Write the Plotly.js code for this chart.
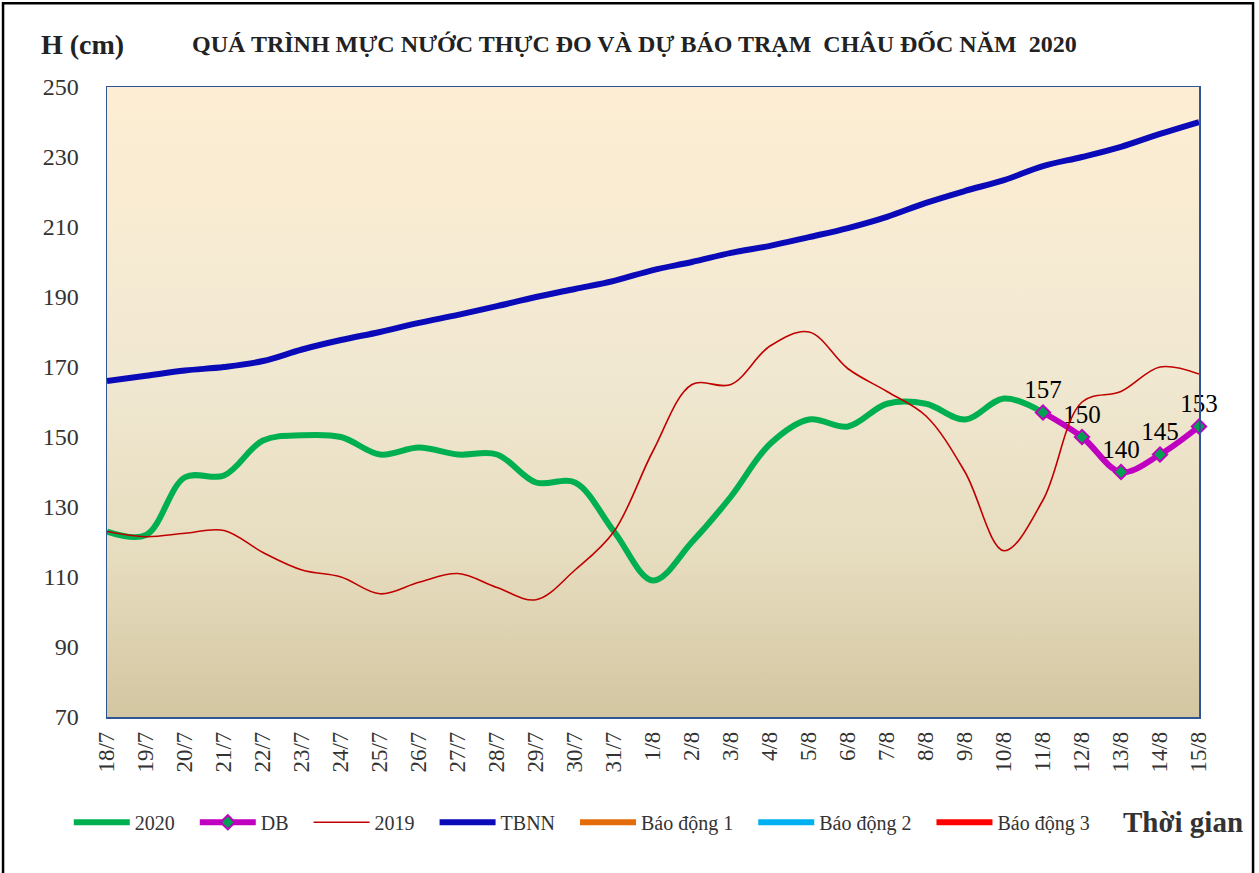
<!DOCTYPE html>
<html>
<head>
<meta charset="utf-8">
<script src="https://cdn.plot.ly/plotly-3.0.1.min.js"></script>
<style>
  html, body { margin: 0; padding: 0; background: #ffffff; }
  #wrap { position: relative; width: 1259px; height: 873px; }
  #bg { position: absolute; left: 107px; top: 87px; width: 1092px; height: 630px;
        background: linear-gradient(to bottom, #fdeed3 0%, #f1e8d2 45%, #e6dcbe 75%, #d3c6a1 100%); }
  #chart { position: absolute; left: 0; top: 0; width: 1259px; height: 873px; }
</style>
</head>
<body>
<div id="wrap">
  <div id="bg"></div>
  <div id="chart"></div>
</div>
<script>
const days = ["18/7","19/7","20/7","21/7","22/7","23/7","24/7","25/7","26/7","27/7","28/7","29/7","30/7","31/7",
              "1/8","2/8","3/8","4/8","5/8","6/8","7/8","8/8","9/8","10/8","11/8","12/8","13/8","14/8","15/8"];

const y2020 = [123,122,138.5,139,149,150.5,150,145,147,145,145,137,137,123,
               109,120,133,148,155,153,159.5,159.5,155,161,157,null,null,null,null];

const yDB = [null,null,null,null,null,null,null,null,null,null,null,null,null,null,
             null,null,null,null,null,null,null,null,null,null,157,150,140,145,153];

const y2019 = [123,121.5,122.5,123.3,117,112,110,105.2,108.5,111,107,103.5,112,123,
               146,165,165,176,180,169.5,163,156,140,117.5,132,160,163,170,168];

const yTBNN = [166,167.5,169,170,171.7,175,177.7,180,182.6,184.9,187.4,190,192.3,194.6,
               197.7,200,202.6,204.6,207.1,209.7,212.9,216.9,220.3,223.4,227.4,230,232.9,236.6,240];

const yBD1 = days.map(() => null);
const yBD2 = days.map(() => null);
const yBD3 = days.map(() => null);

const seriesNames = ["2020", "DB", "2019", "TBNN", "Báo động 1", "Báo động 2", "Báo động 3"];

const dbLabels = yDB.map(v => v === null ? "" : String(v));

const serif = "Liberation Serif, Times New Roman, serif";
const pad = "\u00a0\u00a0\u00a0";

const traces = [
  { x: days, y: y2020, name: seriesNames[0] + pad, type: "scatter", mode: "lines",
    line: { color: "#00b050", width: 6, shape: "spline", smoothing: 1 } },
  { x: days, y: yDB, name: seriesNames[1] + pad, type: "scatter", mode: "lines+markers+text",
    line: { color: "#c000c0", width: 6, shape: "spline", smoothing: 1 },
    marker: { symbol: "diamond", size: 11, color: "#00a050", line: { color: "#c000c0", width: 2 } },
    text: dbLabels, textposition: "top center", cliponaxis: false,
    textfont: { family: serif, size: 25, color: "#000000" } },
  { x: days, y: y2019, name: seriesNames[2] + pad, type: "scatter", mode: "lines",
    line: { color: "#c00000", width: 1.6, shape: "spline", smoothing: 1 } },
  { x: days, y: yTBNN, name: seriesNames[3] + pad, type: "scatter", mode: "lines",
    line: { color: "#0a0ab8", width: 6, shape: "spline", smoothing: 1 } },
  { x: days, y: yBD1, name: seriesNames[4] + pad, type: "scatter", mode: "lines",
    line: { color: "#e46c0a", width: 6 } },
  { x: days, y: yBD2, name: seriesNames[5] + pad, type: "scatter", mode: "lines",
    line: { color: "#00b0f0", width: 6 } },
  { x: days, y: yBD3, name: seriesNames[6], type: "scatter", mode: "lines",
    line: { color: "#ff0000", width: 6 } }
];

const layout = {
  width: 1259, height: 873,
  margin: { l: 107, r: 60, t: 87, b: 156 },
  paper_bgcolor: "rgba(0,0,0,0)",
  plot_bgcolor: "rgba(0,0,0,0)",
  showlegend: true,
  font: { family: serif, color: "#333333" },
  xaxis: {
    type: "category", range: [0, 28], tickangle: -90,
    tickfont: { family: serif, size: 23, color: "#333333" },
    showgrid: false, zeroline: false,
    showline: true, linecolor: "#2f5597", linewidth: 1.5, mirror: true,
    ticks: "", ticklabelstandoff: 4
  },
  yaxis: {
    range: [70, 250], dtick: 20, tick0: 70,
    tickfont: { family: serif, size: 24, color: "#333333" },
    showgrid: false, zeroline: false,
    showline: true, linecolor: "#2f5597", linewidth: 1.5, mirror: true,
    ticks: "", ticklabelstandoff: 22
  },
  legend: {
    orientation: "h", x: -0.035, xanchor: "left", y: -0.167, yanchor: "middle",
    font: { family: serif, size: 20, color: "#333333" },
    itemwidth: 56, traceorder: "normal", bgcolor: "rgba(0,0,0,0)"
  },
  annotations: [
    { text: "<b>H (cm)</b>", xref: "paper", yref: "paper", x: -0.062, y: 1.068,
      xanchor: "left", yanchor: "middle", showarrow: false,
      font: { family: serif, size: 28, color: "#222222" } },
    { text: "<b>QUÁ TRÌNH MỰC NƯỚC THỰC ĐO VÀ DỰ BÁO TRẠM  CHÂU ĐỐC NĂM  2020</b>",
      xref: "paper", yref: "paper", x: 0.076, y: 1.068,
      xanchor: "left", yanchor: "middle", showarrow: false,
      font: { family: serif, size: 24, color: "#222222" } },
    { text: "<b>Thời gian</b>", xref: "paper", yref: "paper", x: 1.042, y: -0.167,
      xanchor: "right", yanchor: "middle", showarrow: false,
      font: { family: serif, size: 29, color: "#333333" } }
  ],
  shapes: [
    { type: "rect", xref: "paper", yref: "paper", x0: -0.0952, x1: 1.0495, y0: -0.32, y1: 1.133,
      line: { color: "#000000", width: 2.5 }, fillcolor: "rgba(0,0,0,0)", layer: "above" }
  ]
};

Plotly.newPlot("chart", traces, layout, { displayModeBar: false, staticPlot: true });
</script>
</body>
</html>
